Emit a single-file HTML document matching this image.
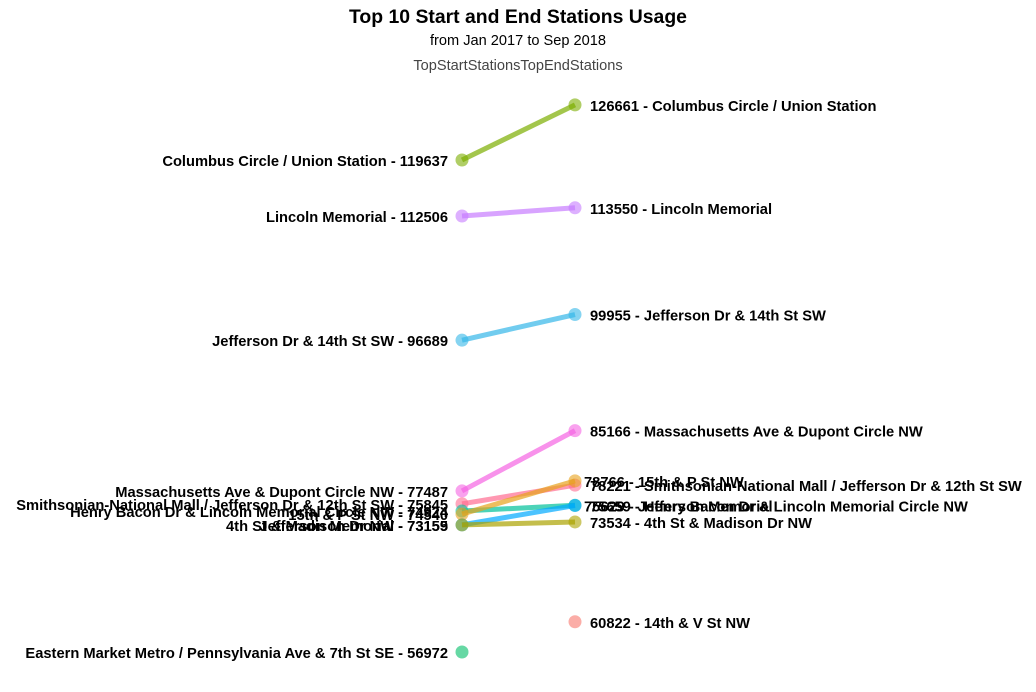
<!DOCTYPE html>
<html><head><meta charset="utf-8"><style>
body{margin:0;background:#fff;}
svg text{font-family:"Liberation Sans",Arial,sans-serif;}
</style></head><body>
<svg id="chart" width="1036" height="687" xmlns="http://www.w3.org/2000/svg">
<text x="518" y="23" text-anchor="middle" font-size="19.4" font-weight="bold">Top 10 Start and End Stations Usage</text>
<text x="518" y="45" text-anchor="middle" font-size="14.6">from Jan 2017 to Sep 2018</text>
<text x="518" y="70" text-anchor="middle" font-size="14.6" fill="#444">TopStartStationsTopEndStations</text>
<g id="marks"></g>
</svg>
<script>
const stations=["Columbus Circle / Union Station","Lincoln Memorial","Jefferson Dr & 14th St SW","Massachusetts Ave & Dupont Circle NW","Smithsonian-National Mall / Jefferson Dr & 12th St SW","Henry Bacon Dr & Lincoln Memorial Circle NW","15th & P St NW","Jefferson Memorial","4th St & Madison Dr NW","Eastern Market Metro / Pennsylvania Ave & 7th St SE","14th & V St NW"];
const startValues=[119637,112506,96689,77487,75845,74924,74540,73159,73155,56972,null];
const endValues=[126661,113550,99955,85166,78221,75659,78766,75629,73534,null,60822];
const colors=["#7CAE00","#C77CFF","#35B7E8","#F564E3","#FF6C91","#00C19A","#E7A21B","#00A9FF","#ABA300","#00BE67","#F8766D"];
const y=v=>160+(119637-v)*0.007851;
const xL=462,xR=575;
const g=document.getElementById('marks');
const NS="http://www.w3.org/2000/svg";
function mk(t,a){const e=document.createElementNS(NS,t);for(const k in a)e.setAttribute(k,a[k]);g.appendChild(e);return e;}
stations.forEach((s,i)=>{
  const a=startValues[i],b=endValues[i],c=colors[i];
  if(a!=null&&b!=null){
    const l=mk('line',{x1:xL,y1:y(a),x2:xR,y2:y(b),stroke:c,'stroke-width':5,'stroke-opacity':0.7});
    
    
  }
  if(a!=null){
    const p=mk('circle',{cx:xL,cy:y(a),r:6.5,fill:c,'fill-opacity':0.6});
    
    
    const t=mk('text',{x:448,y:y(a)+6,'text-anchor':'end','font-size':14.7,'font-weight':'bold'});
    t.textContent=s+' - '+a;
    
    
  }
  if(b!=null){
    const p=mk('circle',{cx:xR,cy:y(b),r:6.5,fill:c,'fill-opacity':0.6});
    
    
    const t=mk('text',{x:xR+(i==6||i==7?9:15),y:y(b)+6,'font-size':14.7,'font-weight':'bold'});
    t.textContent=b+' - '+s;
    
    
  }
});
</script>
</body></html>
